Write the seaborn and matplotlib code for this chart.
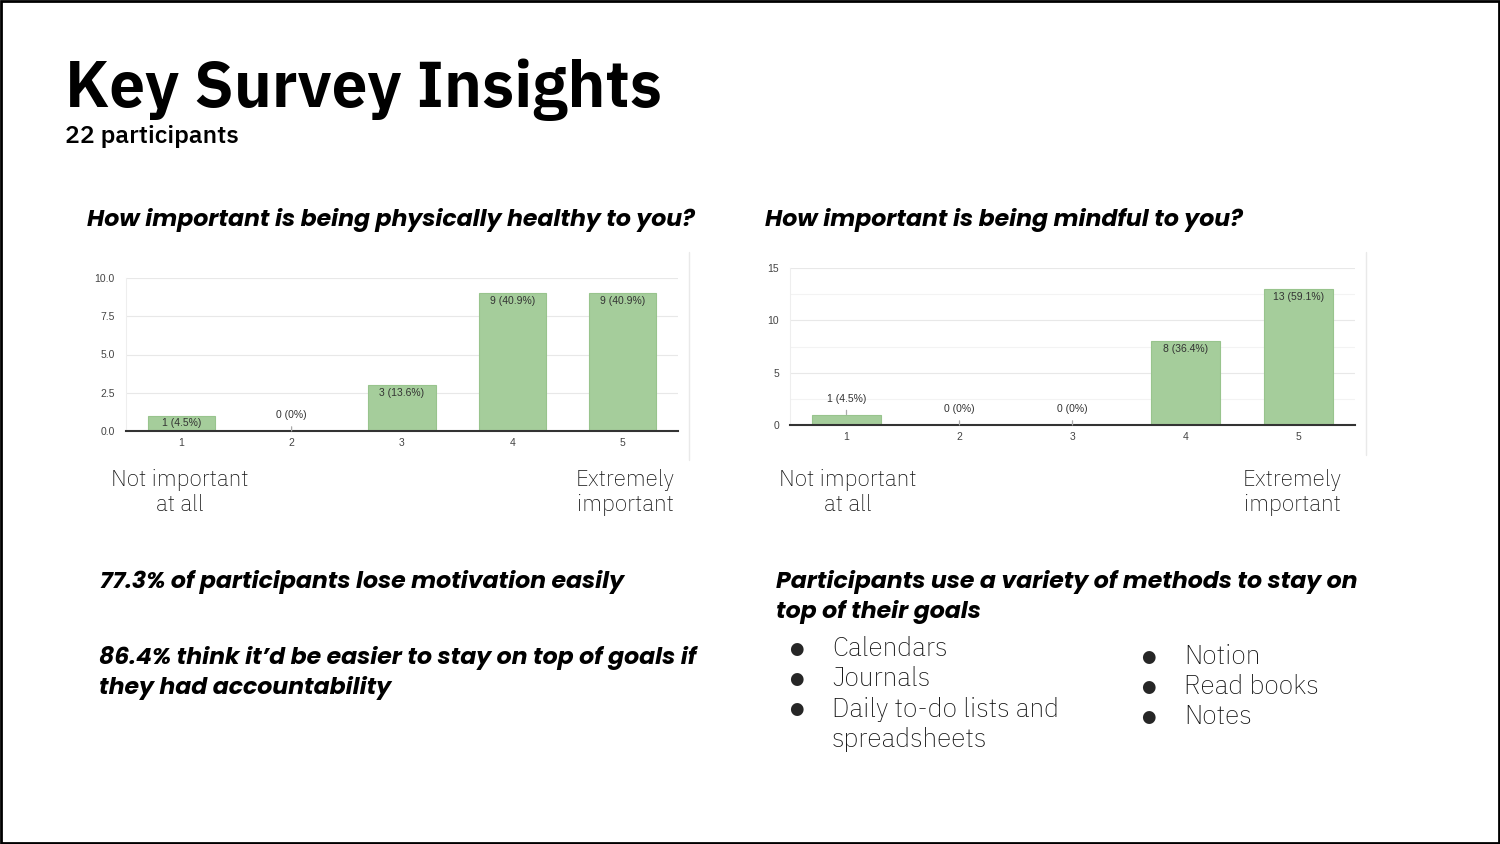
import matplotlib
matplotlib.use("Agg")
import matplotlib.pyplot as plt
import seaborn as sns
import pandas as pd
from matplotlib.patches import Rectangle

# ---------------- data ----------------
categories = ["1", "2", "3", "4", "5"]
physical_counts = [1, 0, 3, 9, 9]
mindful_counts = [1, 0, 0, 8, 13]
total_participants = 22

physical_yticks = [0, 2.5, 5, 7.5, 10]
physical_ytick_labels = ["0.0", "2.5", "5.0", "7.5", "10.0"]
mindful_yticks = [0, 5, 10, 15]
mindful_ytick_labels = ["0", "5", "10", "15"]
mindful_minor_ticks = [2.5, 7.5, 12.5]

title = "Key Survey Insights"
subtitle = "22 participants"
q_physical = "How important is being physically healthy to you?"
q_mindful = "How important is being mindful to you?"
low_label = ["Not important", "at all"]
high_label = ["Extremely", "important"]
insight_1 = ["77.3% of participants lose motivation easily"]
insight_2 = ["86.4% think it\u2019d be easier to stay on top of goals if", "they had accountability"]
methods_heading = ["Participants use a variety of methods to stay on", "top of their goals"]
methods_left = [["Calendars"], ["Journals"], ["Daily to-do lists and", "spreadsheets"]]
methods_right = [["Notion"], ["Read books"], ["Notes"]]

# ---------------- style ----------------
sns.set_theme(style="white")
PLEX = ["IBM Plex Sans JP", "IBM Plex Sans", "DejaVu Sans"]
POPPINS = ["Poppins", "DejaVu Sans"]
CHART_FONT = ["Liberation Sans", "DejaVu Sans"]
plt.rcParams["font.family"] = PLEX

W, H = 1500, 844
BAR = "#a5cd9b"
EDGE = "#98c48d"

fig = plt.figure(figsize=(W / 100, H / 100), dpi=100)
fig.patch.set_facecolor("white")

bg = fig.add_axes([0, 0, 1, 1], zorder=0)
bg.set_xlim(0, W)
bg.set_ylim(H, 0)
bg.axis("off")
bg.add_patch(Rectangle((1, 1), W - 2, H - 2, fill=False, edgecolor="black", linewidth=2))


def pct_label(c):
    p = f"{c / total_participants * 100:.1f}"
    if p.endswith(".0"):
        p = p[:-2]
    return f"{c} ({p}%)"


def add_chart(left, right, top, bottom, counts, yticks, ylabels, minor, ymax):
    ax = fig.add_axes([left / W, 1 - bottom / H, (right - left) / W, (bottom - top) / H], zorder=2)
    df = pd.DataFrame({"answer": categories, "count": counts})
    sns.barplot(data=df, x="answer", y="count", ax=ax, color=BAR, saturation=1,
                width=0.61, edgecolor=EDGE, linewidth=0.8)
    ax.set_xlim(-0.5, 4.5)
    ax.set_ylim(0, ymax)
    ax.set_yticks(yticks)
    ax.set_yticklabels(ylabels)
    if minor:
        ax.set_yticks(minor, minor=True)
        ax.grid(axis="y", which="minor", color="#f3f3f3", linewidth=0.8)
    ax.grid(axis="y", which="major", color="#e8e8e8", linewidth=0.8)
    ax.grid(axis="x", visible=False)
    ax.set_axisbelow(True)
    ax.set_xlabel("")
    ax.set_ylabel("")
    ax.set_facecolor("white")
    for s in ["top", "right"]:
        ax.spines[s].set_visible(False)
    ax.spines["left"].set_color("#eeeeee")
    ax.spines["left"].set_linewidth(0.8)
    ax.spines["bottom"].set_color("#333333")
    ax.spines["bottom"].set_linewidth(1.5)
    ax.tick_params(axis="both", which="both", length=0, labelsize=7.5, labelcolor="#444444")
    ax.tick_params(axis="y", pad=8)
    ax.tick_params(axis="x", pad=5)
    for lab in ax.get_xticklabels() + ax.get_yticklabels():
        lab.set_family(CHART_FONT)
    for patch, c in zip(ax.patches, counts):
        x = patch.get_x() + patch.get_width() / 2
        h = patch.get_height()
        txt = pct_label(c)
        if c / ymax >= 0.08:
            ax.annotate(txt, (x, h), xytext=(0, -5.5), textcoords="offset points",
                        ha="center", va="center", fontsize=7.5, color="#333333",
                        family=CHART_FONT)
        else:
            ax.annotate(txt, (x, h), xytext=(0, 11.5), textcoords="offset points",
                        ha="center", va="center", fontsize=7.5, color="#333333",
                        family=CHART_FONT,
                        arrowprops=dict(arrowstyle="-", color="#aaaaaa", lw=0.9,
                                        shrinkA=2.5, shrinkB=0))
    return ax


add_chart(126, 678, 278, 431, physical_counts, physical_yticks, physical_ytick_labels, None, 10)
add_chart(790, 1355, 268, 425, mindful_counts, mindful_yticks, mindful_ytick_labels, mindful_minor_ticks, 15)

# chart image borders
bg.plot([689, 689], [252, 460], color="#e9e9e9", lw=1)
bg.plot([1366, 1366], [252, 455], color="#e9e9e9", lw=1)


def lines(x, y0, texts, step, **kw):
    for i, t in enumerate(texts):
        bg.text(x, y0 + i * step, t, va="center", **kw)


# ---------------- text ----------------
bg.text(65, 107, title, fontsize=44, fontweight="bold", va="baseline", ha="left", color="black")
bg.text(65, 137, subtitle, fontsize=17, fontweight="semibold", va="center", ha="left", color="black")

head = dict(fontsize=17, fontweight="bold", style="italic", ha="left", family=POPPINS, color="black")
bg.text(87, 220, q_physical, va="center", **head)
bg.text(765, 220, q_mindful, va="center", **head)

lab = dict(fontsize=15.5, fontweight="light", ha="center", color="#111111")
lines(180, 480, low_label, 25, **lab)
lines(625, 480, high_label, 25, **lab)
lines(848, 480, low_label, 25, **lab)
lines(1292, 480, high_label, 25, **lab)

lines(100, 582, insight_1, 30, **head)
lines(99, 658, insight_2, 30, **head)
lines(776, 582, methods_heading, 30, **head)

body = dict(fontsize=18, fontweight="light", ha="left", color="#111111")
y = 649
for item in methods_left:
    bg.text(796, y, "\u25cf", fontsize=12, va="center", ha="center", family=["DejaVu Sans"])
    lines(832, y, item, 30, **body)
    y += 30 * len(item)

y = 657
for item in methods_right:
    bg.text(1148, y, "\u25cf", fontsize=12, va="center", ha="center", family=["DejaVu Sans"])
    lines(1184, y, item, 30, **body)
    y += 30 * len(item)

fig.savefig("out.png", dpi=100, facecolor="white")
